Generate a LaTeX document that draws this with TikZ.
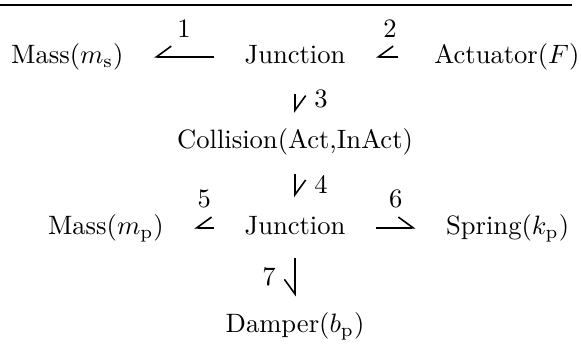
\documentclass[tikz,border=0pt]{standalone}
\usetikzlibrary{arrows.meta, positioning}

\begin{document}
\begin{tikzpicture}[
    elem/.style={text height=7.5pt, text depth=2.5pt},
    num/.style={inner sep=7pt},
    bond/.style={line width=0.6pt, shorten <=8pt, shorten >=8pt},
    bond_left/.style={bond, -{Straight Barb[left, length=5.5pt, width=8pt]}},
    bond_right/.style={bond, -{Straight Barb[right, length=5.5pt, width=8pt]}}
]
\useasboundingbox (0,0) rectangle (7.68,-4.56);

% Top rule
\draw[line width=0.8pt] (0,-0.066) -- (7.56,-0.066);

% Upper junction
\node[elem] (mass_s) at (0.89,-0.75) {Mass($m_{\mathrm{s}}$)};
\node[elem] (junction_top) at (3.90,-0.75) {Junction};
\node[elem] (actuator) at (6.70,-0.75) {Actuator($F$)};

% Collision
\node[elem] (collision) at (3.90,-1.87) {Collision(Act,InAct)};

% Lower junction
\node[elem] (mass_p) at (1.40,-3.01) {Mass($m_{\mathrm{p}}$)};
\node[elem] (junction_bot) at (3.90,-3.01) {Junction};
\node[elem] (spring) at (6.71,-3.01) {Spring($k_{\mathrm{p}}$)};
\node[elem] (damper) at (3.90,-4.31) {Damper($b_{\mathrm{p}}$)};

% Bonds
\draw[bond_right] (junction_top) -- node[num, above] (b1) {1} (mass_s);
\draw[bond_right, shorten <=10pt] (actuator) -- node[num, above] (b2) {2} (junction_top);
\draw[bond_left, shorten <=5.5pt, shorten >=2.3pt] (junction_top) -- node[num, right] (b3) {3} (collision);
\draw[bond_left, shorten <=3.6pt, shorten >=3pt] (collision) -- node[num, right] (b4) {4} (junction_bot);
\draw[bond_right] (junction_bot) -- node[num, above] (b5) {5} (mass_p);
\draw[bond_left] (junction_bot) -- node[num, above] (b6) {6} (spring);
\draw[bond_right, shorten <=3pt, shorten >=2.6pt] (junction_bot) -- node[num, left] (b7) {7} (damper);

\end{tikzpicture}
\end{document}
